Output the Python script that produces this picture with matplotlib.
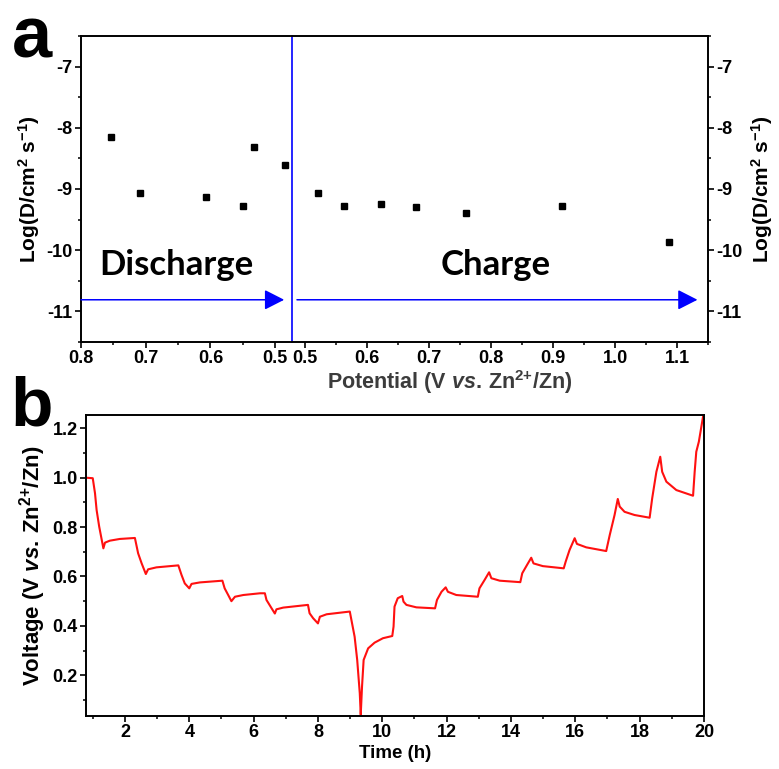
import matplotlib
matplotlib.use("Agg")
import matplotlib.pyplot as plt
from matplotlib.ticker import MultipleLocator, FixedLocator, FormatStrFormatter

# ---- panel a: diffusion coefficient vs potential (GITT) ----
discharge_potential = [0.753, 0.709, 0.607, 0.550, 0.533, 0.485]
discharge_logD = [-8.15, -9.07, -9.13, -9.27, -8.31, -8.60]
charge_potential = [0.521, 0.563, 0.623, 0.679, 0.760, 0.914, 1.087]
charge_logD = [-9.07, -9.28, -9.25, -9.30, -9.40, -9.28, -9.86]

# ---- panel b: GITT voltage profile ----
time_h = [
    0.79, 1.00, 1.07, 1.12, 1.20, 1.33, 1.38, 1.53, 1.84, 2.31,
    2.41, 2.52, 2.65, 2.72, 2.98, 3.66, 3.76, 3.86, 4.00, 4.07,
    4.33, 5.03, 5.10, 5.21, 5.31, 5.42, 5.68, 6.20, 6.35, 6.40,
    6.56, 6.66, 6.71, 6.92, 7.69, 7.74, 7.85, 8.00, 8.06, 8.27,
    8.99, 9.04, 9.14, 9.22, 9.30, 9.33, 9.37, 9.42, 9.56, 9.76,
    10.02, 10.31, 10.35, 10.38, 10.48, 10.62, 10.66, 10.75, 11.06, 11.64,
    11.70, 11.84, 11.97, 12.04, 12.30, 12.97, 13.02, 13.18, 13.32, 13.39,
    13.65, 14.29, 14.35, 14.50, 14.63, 14.70, 14.99, 15.64, 15.70, 15.82,
    15.98, 16.05, 16.34, 16.96, 17.07, 17.22, 17.32, 17.38, 17.53, 17.84,
    18.31, 18.39, 18.52, 18.64, 18.70, 18.83, 19.14, 19.66, 19.71, 19.76,
    19.84, 19.97,
]
voltage = [
    1.000, 0.998, 0.937, 0.869, 0.802, 0.714, 0.737, 0.745, 0.752, 0.756,
    0.694, 0.653, 0.610, 0.629, 0.637, 0.645, 0.606, 0.572, 0.552, 0.570,
    0.576, 0.583, 0.552, 0.525, 0.500, 0.518, 0.525, 0.532, 0.532, 0.505,
    0.471, 0.450, 0.467, 0.474, 0.485, 0.451, 0.431, 0.410, 0.437, 0.447,
    0.458, 0.424, 0.356, 0.262, 0.127, 0.040, 0.154, 0.262, 0.309, 0.332,
    0.350, 0.359, 0.397, 0.478, 0.512, 0.521, 0.498, 0.485, 0.475, 0.471,
    0.505, 0.538, 0.556, 0.538, 0.525, 0.518, 0.552, 0.586, 0.617, 0.593,
    0.583, 0.577, 0.613, 0.647, 0.676, 0.653, 0.642, 0.633, 0.660, 0.707,
    0.755, 0.732, 0.718, 0.703, 0.768, 0.849, 0.914, 0.883, 0.862, 0.849,
    0.838, 0.917, 1.024, 1.085, 1.024, 0.984, 0.950, 0.927, 1.024, 1.105,
    1.146, 1.247,
]

plt.rcParams["font.family"] = ["Liberation Sans", "DejaVu Sans"]
plt.rcParams["font.weight"] = "bold"
plt.rcParams["axes.unicode_minus"] = False
plt.rcParams["mathtext.fontset"] = "custom"
plt.rcParams["mathtext.rm"] = "Liberation Sans:bold"
plt.rcParams["mathtext.bf"] = "Liberation Sans:bold"
plt.rcParams["mathtext.it"] = "Liberation Sans:italic:bold"

W, H = 779, 769
TICK_FS = 13
LABEL_FS = 15
BLUE = "#0000ff"
LOGD_LABEL = r"Log(D/cm$^{2}$ s$^{-1}$)"
VS_ZN = r"(V $\it{vs.}\,$Zn$^{2{+}}$/Zn)"


def style_ticks(ax):
    ax.tick_params(which="major", direction="out", length=4, width=1.2,
                   labelsize=TICK_FS, pad=2)
    ax.tick_params(which="minor", direction="out", length=2.5, width=1.1)
    for s in ax.spines.values():
        s.set_linewidth(1.4)


def panel_a(fig):
    bottom = 1 - 342 / H
    height = (342 - 36) / H
    ax_l = fig.add_axes((81 / W, bottom, (290 - 81) / W, height))
    ax_r = fig.add_axes((292 / W, bottom, (708 - 292) / W, height))

    ax_l.plot(discharge_potential, discharge_logD, "s", color="black", markersize=4.3)
    ax_r.plot(charge_potential, charge_logD, "s", color="black", markersize=4.3)

    ax_l.set_xlim(0.8, 0.477)
    ax_r.set_xlim(0.479, 1.15)
    for ax in (ax_l, ax_r):
        ax.set_ylim(-11.5, -6.5)
        ax.yaxis.set_major_locator(FixedLocator([-7, -8, -9, -10, -11]))
        ax.yaxis.set_minor_locator(MultipleLocator(0.5))
        ax.xaxis.set_major_locator(MultipleLocator(0.1))
        ax.xaxis.set_minor_locator(MultipleLocator(0.05))
        ax.xaxis.set_major_formatter(FormatStrFormatter("%.1f"))
        ax.yaxis.set_major_formatter(FormatStrFormatter("%d"))
        style_ticks(ax)

    ax_l.spines["right"].set_visible(False)
    ax_l.set_ylabel(LOGD_LABEL, fontsize=LABEL_FS, fontweight="bold", labelpad=3)

    ax_r.spines["left"].set_color(BLUE)
    ax_r.spines["left"].set_linewidth(1.2)
    ax_r.yaxis.tick_right()
    ax_r.yaxis.set_label_position("right")
    ax_r.tick_params(which="both", left=False, labelleft=False)
    ax_r.set_ylabel(LOGD_LABEL, fontsize=LABEL_FS, fontweight="bold",
                    rotation=90, labelpad=5)

    arrow = dict(arrowstyle="-|>,head_length=0.55,head_width=0.28", color=BLUE, lw=1.1,
                 mutation_scale=22, shrinkA=0, shrinkB=0)
    ax_l.annotate("", xy=(0.486, -10.81), xytext=(0.8, -10.81), arrowprops=arrow)
    ax_r.annotate("", xy=(1.133, -10.81), xytext=(0.487, -10.81), arrowprops=arrow)

    ax_l.text(0.653, -10.41, "Discharge", fontsize=25, fontweight="bold",
              family="Lato", ha="center", va="baseline")
    ax_r.text(0.808, -10.41, "Charge", fontsize=25, fontweight="bold",
              family="Lato", ha="center", va="baseline")

    fig.text(450 / W, 1 - 382 / H, "Potential " + VS_ZN,
             fontsize=15.5, fontweight="bold", color="#3c3c3c", ha="center", va="center")
    return [ax_l, ax_r]


def panel_b(fig):
    ax = fig.add_axes((86 / W, 1 - 716 / H, (704 - 86) / W, (716 - 415) / H))
    ax.plot(time_h, voltage, color="#ff1010", linewidth=1.5)
    ax.set_xlim(0.79, 20.0)
    ax.set_ylim(0.035, 1.254)
    ax.xaxis.set_major_locator(MultipleLocator(2))
    ax.xaxis.set_minor_locator(MultipleLocator(1))
    ax.yaxis.set_major_locator(MultipleLocator(0.2))
    ax.yaxis.set_minor_locator(MultipleLocator(0.1))
    ax.yaxis.set_major_formatter(FormatStrFormatter("%.1f"))
    style_ticks(ax)
    ax.set_xlabel("Time (h)", fontsize=13.5, fontweight="bold", labelpad=3)
    ax.set_ylabel("Voltage " + VS_ZN, fontsize=16, fontweight="bold", labelpad=3)
    return [ax]


def main():
    fig = plt.figure(figsize=(W / 100, H / 100), dpi=100)
    axes = panel_a(fig) + panel_b(fig)
    fig.text(12 / W, 1 - 57 / H, "a", fontsize=52, fontweight="bold",
             ha="left", va="baseline")
    fig.text(10 / W, 1 - 426 / H, "b", fontsize=50, fontweight="bold",
             ha="left", va="baseline")
    # tick labels are created lazily; make them bold once they exist
    fig.canvas.draw()
    for ax in axes:
        for lab in ax.get_xticklabels() + ax.get_yticklabels():
            lab.set_fontweight("bold")
    fig.savefig("out.png", dpi=100, facecolor="white")


if __name__ == "__main__":
    main()
